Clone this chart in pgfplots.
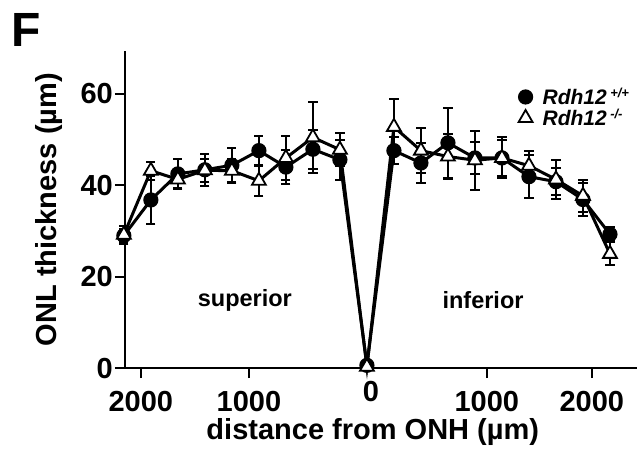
\documentclass[border=0pt]{standalone}
\usepackage{pgfplots}
\pgfplotsset{compat=1.18}
\usepackage{pgfplotstable}
\usepackage{fontspec}
\setmainfont{Liberation Sans}

\pgfplotstableread{
k y e
-9 29.0 1.5
-8 36.8 5.3
-7 42.5 3.3
-6 43.4 3.5
-5 44.4 3.8
-4 47.6 3.2
-3 44.0 3.7
-2 47.9 4.3
-1 45.6 4.4
0 0.6 0.3
1 47.6 3.0
2 44.9 4.4
3 49.3 7.6
4 46.0 3.5
5 46.0 4.5
6 41.9 4.7
7 40.8 2.9
8 36.9 3.6
9 29.3 1.5
}\wt

\pgfplotstableread{
k y e
-9 29.2 2.0
-8 43.2 2.0
-7 41.3 1.8
-6 43.3 2.5
-5 43.2 2.5
-4 41.0 3.3
-3 46.0 4.8
-2 50.5 7.8
-1 47.8 3.6
0 0.3 0.3
1 52.8 6.2
2 47.6 4.9
3 46.3 5.0
4 45.5 6.5
5 46.0 4.0
6 44.3 3.3
7 41.3 4.2
8 37.7 3.5
9 25.0 2.5
}\ko

\begin{document}
\begin{tikzpicture}
\begin{axis}[
  scale only axis,
  width=256pt, height=158.5pt,
  xmin=-8.96, xmax=10,
  ymin=0, ymax=69.4,
  axis x line=bottom, axis y line=left,
  axis line style={line width=1.1pt, -},
  clip=false,
  tick align=outside,
  major tick length=5pt,
  tick style={line width=1.1pt, black},
  xtick={-8.37,-4.37,4.44,8.33},
  xticklabels={2000,1000,1000,2000},
  extra x ticks={0.15},
  extra x tick labels={0},
  extra x tick style={major tick length=0pt},
  ytick={0,20,40,60},
  /pgf/number format/assume math mode=true,
  tick label style={font=\fontsize{14.5}{16}\selectfont\bfseries},
  xticklabel style={yshift=-3pt},
  yticklabel style={xshift=2.5pt},
  every axis y label/.style={at={(rel axis cs:-0.149,0.5)}, rotate=90, anchor=center},
  every axis x label/.style={at={(rel axis cs:0.484,-0.202)}, anchor=center},
  label style={font=\fontsize{14.5}{16}\selectfont\bfseries},
  ylabel={ONL thickness (µm)},
  xlabel={distance from ONH (µm)},
  legend style={draw=none, fill=none, at={(rel axis cs:0.768,0.822)}, anchor=west,
    font=\fontsize{10.5}{11}\selectfont\bfseries, row sep=0pt, inner sep=0pt,
    nodes={inner sep=1pt, text height=8pt, text depth=0.5pt},
    legend cell align=left},
  legend image code/.code={\draw[#1] plot coordinates {(0.2cm,0cm)};},
]
\path (rel axis cs:-0.244,-0.271) rectangle (rel axis cs:1.0137,1.161);

\addplot[black, line width=1.5pt, mark=*, mark size=3.5pt,
  mark options={solid, fill=black, line width=0.6pt},
  error bars/.cd, y dir=both, y explicit,
  error bar style={line width=1pt, black},
  error mark options={rotate=90, mark size=2.3pt, line width=1pt}]
  table[x=k, y=y, y error=e] {\wt};
\addlegendentry{\hspace{4pt}\textit{Rdh12}\,\raisebox{0.6ex}{\fontsize{6.5}{7}\selectfont\itshape +/+}}

\addplot[black, line width=1.5pt, mark=triangle*, mark size=4pt,
  mark options={solid, fill=white, line width=0.9pt},
  error bars/.cd, y dir=both, y explicit,
  error bar style={line width=1pt, black},
  error mark options={rotate=90, mark size=2.3pt, line width=1pt}]
  table[x=k, y=y, y error=e] {\ko};
\addlegendentry{\hspace{4pt}\textit{Rdh12}\,\raisebox{0.6ex}{\fontsize{6.5}{7}\selectfont\itshape -/-}}

\node[font=\fontsize{11.75}{13}\selectfont\bfseries] at (axis cs:-4.52,14.9) {superior};
\node[font=\fontsize{11.75}{13}\selectfont\bfseries] at (axis cs:4.3,14.9) {inferior};
\node[font=\fontsize{24}{28}\selectfont\bfseries] at (rel axis cs:-0.192,1.066) {F};
\end{axis}
\end{tikzpicture}
\end{document}
